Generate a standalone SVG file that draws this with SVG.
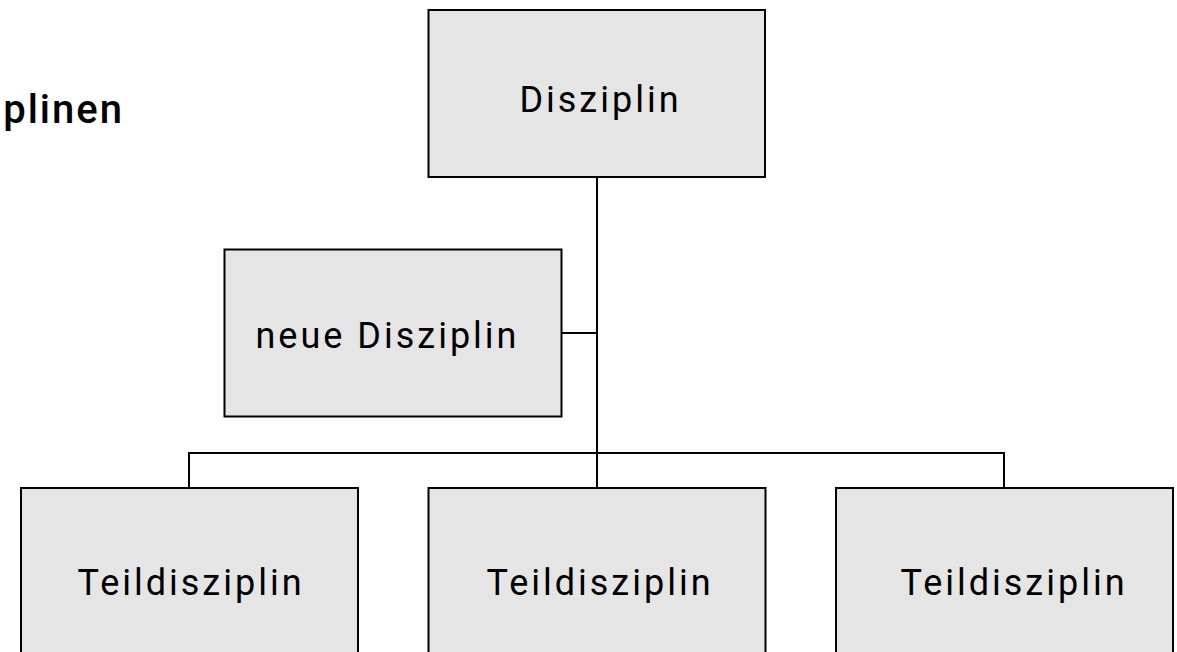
<svg xmlns="http://www.w3.org/2000/svg" width="1177" height="652" viewBox="0 0 1177 652">
<style>
.box{fill:#e5e5e5;stroke:#000;stroke-width:2}
.lbl{font-family:Roboto,"Liberation Sans",sans-serif;font-size:36px;fill:#000;text-anchor:middle;letter-spacing:3px}
.con{fill:none;stroke:#000;stroke-width:2}
.title{font-family:Roboto,"Liberation Sans",sans-serif;font-size:40px;font-weight:500;fill:#000;text-anchor:end;letter-spacing:2px}
</style>
<rect width="1177" height="652" fill="#fff"/>
<text class="title" x="124" y="123">Disziplinen</text>
<g id="connectors">
<path class="con" d="M597 177 V453"/>
<path class="con" d="M561.5 333 H597"/>
<path class="con" d="M189 488 V453 H1004 V488"/>
<path class="con" d="M597 453 V488"/>
</g>
<g id="disziplin"><rect class="box" x="428.5" y="10" width="336.5" height="167"/><text class="lbl" x="600.5" y="112">Disziplin</text></g>
<g id="neue"><rect class="box" x="224.5" y="249.5" width="337" height="167"/><text class="lbl" x="387.5" y="348">neue Disziplin</text></g>
<g id="teil1"><rect class="box" x="21" y="488" width="337" height="180"/><text class="lbl" x="191" y="595">Teildisziplin</text></g>
<g id="teil2"><rect class="box" x="428.5" y="488" width="337" height="180"/><text class="lbl" x="600" y="595">Teildisziplin</text></g>
<g id="teil3"><rect class="box" x="836" y="488" width="337" height="180"/><text class="lbl" x="1014" y="595">Teildisziplin</text></g>
</svg>
